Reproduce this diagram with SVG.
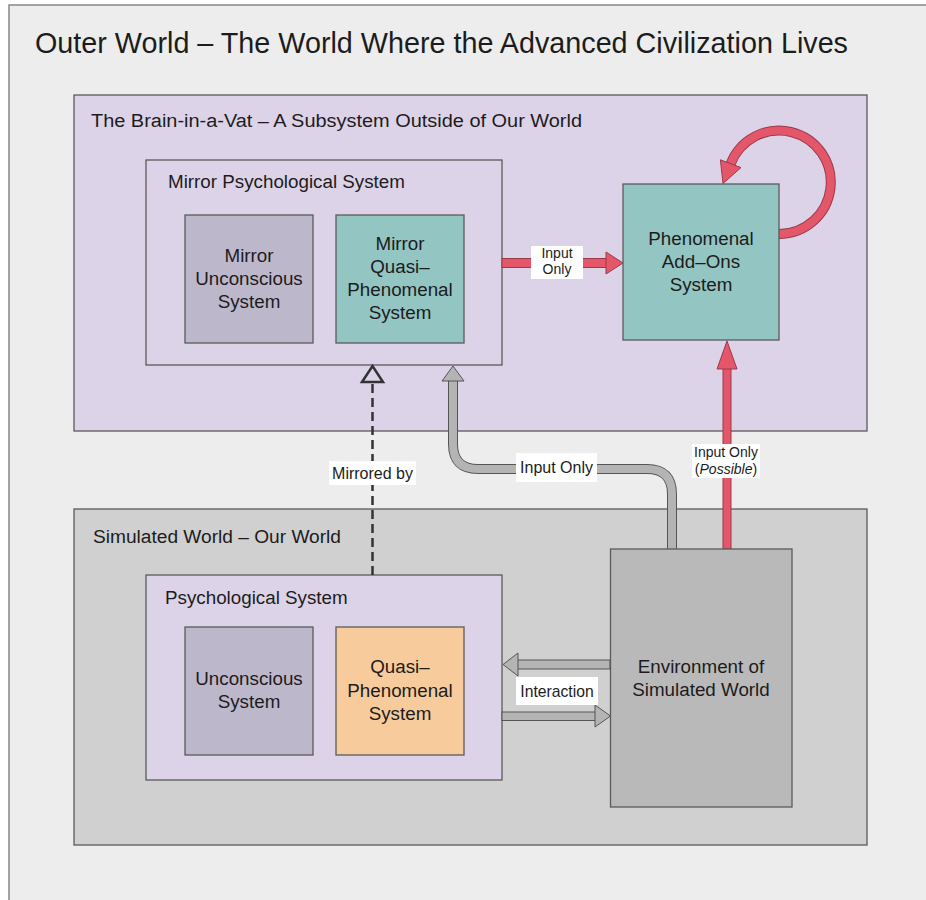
<svg xmlns="http://www.w3.org/2000/svg" width="926" height="900" viewBox="0 0 926 900">
  <defs>
    <style>
      text { font-family: "Liberation Sans", Arial, sans-serif; fill: #1c1c1c; }
      .box { stroke: #5a5a5a; stroke-width: 1.3; }
      .lav { fill: #dcd3e8; }
      .uncon { fill: #bdb7cc; }
      .teal { fill: #93c5c3; }
      .peach { fill: #f8cb9c; }
      .env { fill: #b9b9b9; }
      .lbl { font-size: 18.8px; }
      .ctr { font-size: 18.8px; text-anchor: middle; }
      .tag { fill: #ffffff; }
      .small { font-size: 14px; text-anchor: middle; }
      .mid { font-size: 16px; text-anchor: middle; }
      .redshaft { fill: #e4576b; stroke: #9a3a48; stroke-width: 1; }
      .redhead { fill: #e4576b; stroke: #9a3a48; stroke-width: 1; stroke-linejoin: miter; }
      .grayshaft { fill: #b4b4b4; stroke: #555555; stroke-width: 1; }
      .outline-dark { fill: none; stroke: #555555; stroke-width: 10; }
      .outline-gray { fill: none; stroke: #b4b4b4; stroke-width: 8; }
      .outline-red { fill: none; stroke: #9a3a48; stroke-width: 10; }
      .inner-red { fill: none; stroke: #e4576b; stroke-width: 8; }
    </style>
  </defs>

  <rect x="0" y="0" width="926" height="900" fill="#ffffff"/>

  <g id="outer-world">
    <rect x="9" y="5" width="930" height="910" fill="#ededed" stroke="#888888" stroke-width="1.5"/>
    <text x="35" y="53" font-size="29" textLength="813" lengthAdjust="spacingAndGlyphs">Outer World – The World Where the Advanced Civilization Lives</text>
  </g>

  <g id="brain-in-a-vat">
    <rect class="box lav" x="74" y="95" width="793" height="336"/>
    <text x="91" y="127" font-size="18" textLength="491" lengthAdjust="spacingAndGlyphs">The Brain-in-a-Vat – A Subsystem Outside of Our World</text>
  </g>

  <g id="simulated-world">
    <rect class="box" x="74" y="509" width="793" height="336" fill="#d0d0d0"/>
    <text x="93" y="543" font-size="18" textLength="248" lengthAdjust="spacingAndGlyphs">Simulated World – Our World</text>
  </g>

  <g id="mirror-psychological-system">
    <rect class="box lav" x="146" y="160" width="356" height="205"/>
    <text class="lbl" x="168" y="188">Mirror Psychological System</text>
  </g>

  <g id="psychological-system">
    <rect class="box lav" x="146" y="575" width="356" height="205"/>
    <text class="lbl" x="165" y="604">Psychological System</text>
  </g>

  <g id="connectors">
    <!-- self loop on Phenomenal Add-Ons -->
    <path class="outline-red" d="M779,234 A51.75,51.75 0 1 0 730.7,163.7"/>
    <path class="inner-red" d="M779,234 A51.75,51.75 0 1 0 730.7,163.7"/>
    <polygon class="redhead" points="720.4,159.8 741,167.6 723,183.5"/>

    <!-- Input Only: Mirror psych -> Phenomenal Add-Ons -->
    <rect class="redshaft" x="502" y="258.5" width="106" height="9"/>
    <polygon class="redhead" points="606,252 623,263 606,274"/>
    <rect class="tag" x="531" y="246" width="52" height="33"/>
    <text class="small" x="557" y="258">Input</text>
    <text class="small" x="557" y="274">Only</text>

    <!-- Input Only (Possible): Environment -> Phenomenal Add-Ons -->
    <rect class="redshaft" x="723" y="367" width="8" height="182"/>
    <polygon class="redhead" points="717,369 727,341 737,369"/>
    <rect class="tag" x="692" y="444" width="68" height="34"/>
    <text class="small" x="726" y="457">Input Only</text>
    <text class="small" x="726" y="474">(<tspan font-style="italic">Possible</tspan>)</text>

    <!-- Input Only: Environment -> Mirror psych (gray) -->
    <path class="outline-dark" d="M672,549 V494 Q672,469 647,469 H478 Q453,469 453,444 V380"/>
    <path class="outline-gray" d="M672,550 V494 Q672,469 647,469 H478 Q453,469 453,444 V379"/>
    <polygon class="grayshaft" points="442,381 453,366 464,381"/>
    <rect class="tag" x="516" y="453" width="81" height="29"/>
    <text class="mid" x="556.5" y="473">Input Only</text>

    <!-- Mirrored by (dashed) -->
    <line x1="372.5" y1="575" x2="372.5" y2="383" stroke="#333333" stroke-width="2.5" stroke-dasharray="9 5"/>
    <polygon points="362,382 372.5,366 383,382" fill="none" stroke="#333333" stroke-width="2.5" stroke-linejoin="miter"/>
    <rect class="tag" x="329" y="461" width="87" height="24"/>
    <text class="mid" x="372.5" y="479">Mirrored by</text>

    <!-- Interaction arrows -->
    <rect class="grayshaft" x="516" y="660" width="94" height="9"/>
    <polygon class="grayshaft" points="518,653 503,664.5 518,676"/>
    <rect class="grayshaft" x="502" y="712" width="95" height="8.5"/>
    <polygon class="grayshaft" points="595,705 610.5,716 595,727"/>
    <rect class="tag" x="516" y="677" width="82" height="28"/>
    <text x="557" y="697" font-size="15.7" text-anchor="middle">Interaction</text>
  </g>

  <g id="mirror-unconscious-system">
    <rect class="box uncon" x="185" y="215" width="128" height="128"/>
    <text class="ctr" x="249" y="262">Mirror</text>
    <text class="ctr" x="249" y="285">Unconscious</text>
    <text class="ctr" x="249" y="308">System</text>
  </g>

  <g id="mirror-quasi-phenomenal-system">
    <rect class="box teal" x="336" y="215" width="128" height="128"/>
    <text class="ctr" x="400" y="250">Mirror</text>
    <text class="ctr" x="400" y="273">Quasi–</text>
    <text class="ctr" x="400" y="296">Phenomenal</text>
    <text class="ctr" x="400" y="319">System</text>
  </g>

  <g id="phenomenal-add-ons-system">
    <rect class="box teal" x="623" y="184" width="156" height="156"/>
    <text class="ctr" x="701" y="245">Phenomenal</text>
    <text class="ctr" x="701" y="268">Add–Ons</text>
    <text class="ctr" x="701" y="291">System</text>
  </g>

  <g id="unconscious-system">
    <rect class="box uncon" x="185" y="627" width="128" height="128"/>
    <text class="ctr" x="249" y="685">Unconscious</text>
    <text class="ctr" x="249" y="708">System</text>
  </g>

  <g id="quasi-phenomenal-system">
    <rect class="box peach" x="336" y="627" width="128" height="128"/>
    <text class="ctr" x="400" y="673">Quasi–</text>
    <text class="ctr" x="400" y="697">Phenomenal</text>
    <text class="ctr" x="400" y="720">System</text>
  </g>

  <g id="environment-of-simulated-world">
    <rect class="box env" x="610.5" y="549" width="181.5" height="258"/>
    <text class="ctr" x="701" y="673">Environment of</text>
    <text class="ctr" x="701" y="696">Simulated World</text>
  </g>
</svg>
